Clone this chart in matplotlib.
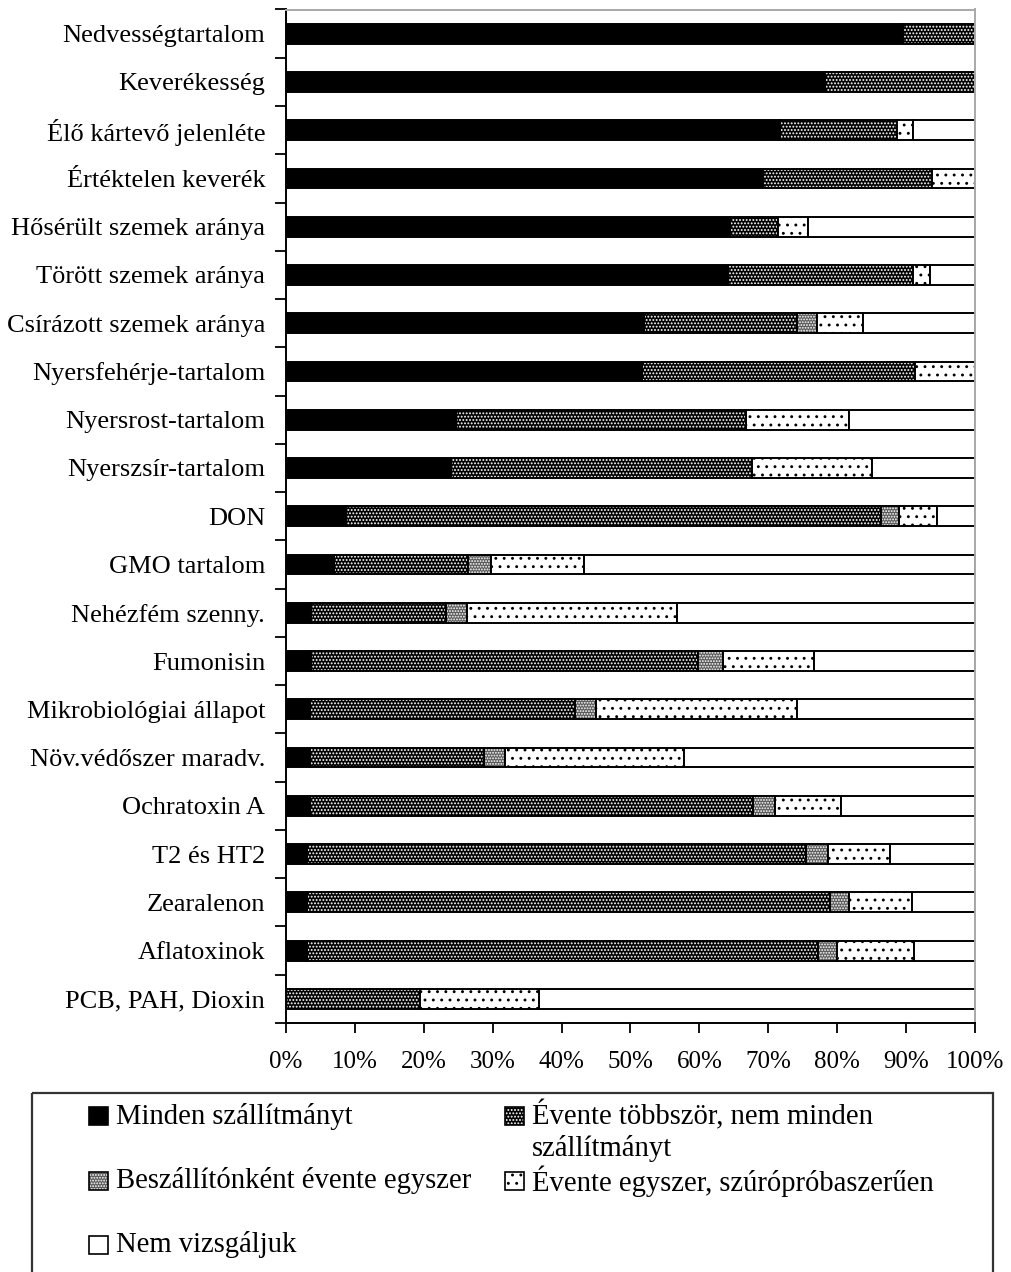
import numpy as np
import matplotlib
matplotlib.use("Agg")
import matplotlib.pyplot as plt
from matplotlib.patches import Rectangle

plt.rcParams['font.family'] = ['Liberation Serif', 'DejaVu Serif']
plt.rcParams['hatch.linewidth'] = 0.9

# Categories, top to bottom
categories = [
    "Nedvességtartalom", "Keverékesség", "Élő kártevő jelenléte",
    "Értéktelen keverék", "Hősérült szemek aránya", "Törött szemek aránya",
    "Csírázott szemek aránya", "Nyersfehérje-tartalom", "Nyersrost-tartalom",
    "Nyerszsír-tartalom", "DON", "GMO tartalom", "Nehézfém szenny.",
    "Fumonisin", "Mikrobiológiai állapot", "Növ.védőszer maradv.",
    "Ochratoxin A", "T2 és HT2", "Zearalenon", "Aflatoxinok",
    "PCB, PAH, Dioxin",
]

# Shares (%) per testing frequency
minden = [89.5, 78.2, 71.7, 69.2, 64.4, 64.2, 52.0, 51.7, 24.7, 23.9, 8.7,
          6.9, 3.7, 3.7, 3.5, 3.5, 3.5, 3.1, 3.1, 3.1, 0.0]
tobbszor = [10.5, 21.8, 17.0, 24.5, 7.0, 26.8, 22.2, 39.6, 42.0, 43.8, 77.6,
            19.5, 19.5, 56.1, 38.5, 25.2, 64.3, 72.4, 75.8, 74.1, 19.4]
beszallitonkent = [0.0, 0.0, 0.0, 0.0, 0.0, 0.0, 2.9, 0.0, 0.0, 0.0, 2.6,
                   3.4, 3.0, 3.6, 3.0, 3.1, 3.1, 3.2, 2.8, 2.8, 0.0]
szuroproba = [0.0, 0.0, 2.3, 6.3, 4.4, 2.5, 6.6, 8.7, 15.0, 17.3, 5.6,
              13.4, 30.5, 13.3, 29.2, 25.9, 9.6, 9.0, 9.2, 11.2, 17.3]
nem = [0.0, 0.0, 9.0, 0.0, 24.2, 6.5, 16.3, 0.0, 18.3, 15.0, 5.5,
       56.8, 43.3, 23.3, 25.8, 42.3, 19.5, 12.3, 9.1, 8.8, 63.3]

series_labels = [
    "Minden szállítmányt",
    "Évente többször, nem minden\nszállítmányt",
    "Beszállítónként évente egyszer",
    "Évente egyszer, szúrópróbaszerűen",
    "Nem vizsgáljuk",
]
x_ticks = [0, 10, 20, 30, 40, 50, 60, 70, 80, 90, 100]

# fill colour, hatch colour, hatch pattern
styles = [
    ("black", "black", None),
    ("black", "white", "....."),
    ("#5a5a5a", "white", "......"),
    ("white", "black", ".."),
    ("white", "white", None),
]

W, H = 1012, 1272
fig = plt.figure(figsize=(W / 100, H / 100), dpi=100)


def frac(x0, y0, x1, y1):
    return [x0 / W, 1 - y1 / H, (x1 - x0) / W, (y1 - y0) / H]


ax = fig.add_axes(frac(286, 9.5, 975, 1023))

data = [minden, tobbszor, beszallitonkent, szuroproba, nem]
y = np.arange(len(categories))
left = np.zeros(len(categories))
bar_h = 0.41
for vals, (fc, hc, hatch) in zip(data, styles):
    vals = np.asarray(vals, dtype=float)
    m = vals > 0
    ax.barh(y[m], vals[m], left=left[m], height=bar_h, color=fc,
            edgecolor=hc, hatch=hatch, linewidth=0)
    ax.barh(y[m], vals[m], left=left[m], height=bar_h, fill=False,
            edgecolor="black", linewidth=1.4)
    left += vals

ax.set_xlim(0, 100)
ax.set_ylim(len(categories) - 0.5, -0.5)

ax.set_xticks(x_ticks)
ax.set_xticklabels([f"{t}%" for t in x_ticks], fontsize=18)
ax.tick_params(axis="x", direction="out", length=7, width=1.3, pad=13)

ax.set_yticks(y)
ax.set_yticklabels(categories, fontsize=19)
ax.set_yticks(np.arange(len(categories) + 1) - 0.5, minor=True)
ax.tick_params(axis="y", which="major", length=0, pad=15)
ax.tick_params(axis="y", which="minor", direction="out", length=8, width=1.3)

for side in ("left", "bottom"):
    ax.spines[side].set_color("black")
    ax.spines[side].set_linewidth(1.4)
for side in ("top", "right"):
    ax.spines[side].set_color("#a8a8a8")
    ax.spines[side].set_linewidth(1.4)

# Legend panel drawn in pixel coordinates
lax = fig.add_axes([0, 0, 1, 1], zorder=5)
lax.set_xlim(0, W)
lax.set_ylim(H, 0)
lax.axis("off")
lax.add_patch(Rectangle((32, 1093), 993 - 32, 300, fill=False,
                        edgecolor="#333333", linewidth=1.6, clip_on=False))

positions = [(89, 1116), (505, 1116), (89, 1181), (505, 1181), (89, 1245)]
for (px, py), label, (fc, hc, hatch) in zip(positions, series_labels, styles):
    sw, sh = 19, 18
    lax.add_patch(Rectangle((px, py - sh / 2), sw, sh, facecolor=fc,
                            edgecolor=hc, hatch=hatch, linewidth=0))
    lax.add_patch(Rectangle((px, py - sh / 2), sw, sh, fill=False,
                            edgecolor="black", linewidth=1.2))
    if "\n" in label:
        lax.text(px + 27, py - 16, label, fontsize=20.6, va="top",
                 ha="left", linespacing=1.22)
    else:
        lax.text(px + 27, py, label, fontsize=20.6, va="center", ha="left")

fig.savefig("out.png", dpi=100)
